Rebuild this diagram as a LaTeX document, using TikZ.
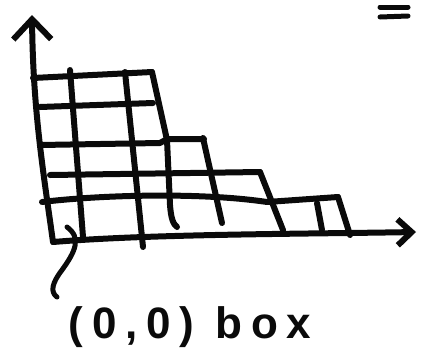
\documentclass[tikz,border=0pt]{standalone}
\usepackage{fontspec}
\setmainfont{Liberation Sans}
\usepackage{tikz}
\usetikzlibrary{arrows.meta, positioning}
\definecolor{inkblack}{RGB}{10,10,10}
\tikzset{
  gridline/.style={line width=6pt, color=inkblack, line cap=round, line join=round},
  axis/.style={line width=6pt, color=inkblack, line cap=round},
  eqbar/.style={line width=5pt, color=inkblack, line cap=round},
  pointer/.style={line width=5pt, color=inkblack, line cap=round},
  boxtext/.style={anchor=base, inner sep=0pt, color=inkblack,
    font=\fontsize{44}{48}\selectfont\bfseries\addfontfeature{LetterSpace=20}}
}
\begin{document}
\begin{tikzpicture}[x=1pt, y=-1pt]
  \useasboundingbox (0,0) rectangle (430,362);

  % Axes
  \draw[axis, -{Straight Barb[length=20pt, width=38pt]}]
    (53,242) .. controls (43,170) and (33,110) .. (32,15);
  \draw[axis, -{Straight Barb[length=14pt, width=26pt]}]
    (53,242) .. controls (150,234) and (300,234) .. (416,232);

  % Row boundaries (bottom row is the x axis)
  \draw[gridline] (33,78) -- (152,72);
  \draw[gridline] (40,107) -- (153,103);
  \draw[gridline] (40,145) -- (160,143) -- (167,139) -- (204,139);
  \draw[gridline] (50,175) -- (260,172);
  \draw[gridline] (42,202) .. controls (100,195) and (200,192) .. (267,202) -- (338,197);

  % Column boundaries
  \foreach \xa/\ya/\xb/\yb in {70/70/83/237, 125/72/143/247, 203/138/222/223,
                               260/172/283/230, 317/203/322/230, 338/197/350/235} {
    \draw[gridline] (\xa,\ya) -- (\xb,\yb);
  }
  \draw[gridline] (152,72) -- (167,140) -- (170,205) .. controls (171,218) and (173,224) .. (177,227);

  % Equals sign
  \draw[eqbar] (380,7) -- (408,7);
  \draw[eqbar] (380,17) -- (408,16);

  % Label for the corner box
  \coordinate (origbox) at (67,227);
  \coordinate (tail) at (57,297);
  \node[boxtext] (boxlabel) at (190,338) {(0,0) box};
  \draw[pointer] (tail) .. controls (50,292) and (52,283) .. (62,270)
    .. controls (75,252) and (82,238) .. (origbox);
\end{tikzpicture}
\end{document}
